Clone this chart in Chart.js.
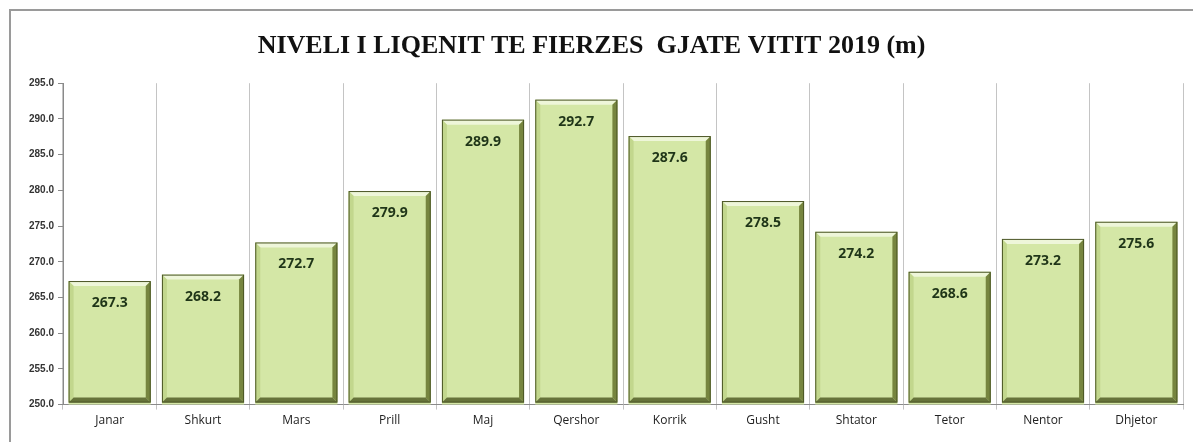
<!DOCTYPE html>
<html>
<head>
<meta charset="utf-8">
<script src="https://cdn.jsdelivr.net/npm/chart.js@4"></script>
<style>
  html, body { margin: 0; padding: 0; background: #fff; }
  #wrap { position: relative; width: 1193px; height: 442px; overflow: hidden; }
  #frame { position: absolute; left: 9px; top: 9px; width: 1200px; height: 460px;
           border: 2px solid #9a9a9a; box-sizing: border-box; pointer-events: none; }
</style>
</head>
<body>
<div id="wrap">
  <canvas id="bar-chart" width="1193" height="442"></canvas>
  <div id="frame"></div>
</div>
<script>
// months and lake level (m)
var months = ["Janar", "Shkurt", "Mars", "Prill", "Maj", "Qershor", "Korrik", "Gusht", "Shtator", "Tetor", "Nentor", "Dhjetor"];
var levels = [267.3, 268.2, 272.7, 279.9, 289.9, 292.7, 287.6, 278.5, 274.2, 268.6, 273.2, 275.6];
var yMin = 250, yMax = 295, yStep = 5;

// bevelled bar edges + value labels
var bevel = {
  id: 'bevel',
  afterDatasetsDraw: function (chart) {
    var ctx = chart.ctx;
    var meta = chart.getDatasetMeta(0);
    var bottom = chart.scales.y.getPixelForValue(yMin) - 2;
    meta.data.forEach(function (bar, i) {
      var l = bar.x - bar.width / 2, r = bar.x + bar.width / 2;
      var t = bar.y, b = Math.min(bar.base, bottom), s = 5;
      function poly(pts, col) {
        ctx.beginPath();
        ctx.moveTo(pts[0][0], pts[0][1]);
        for (var k = 1; k < pts.length; k++) ctx.lineTo(pts[k][0], pts[k][1]);
        ctx.closePath();
        ctx.fillStyle = col;
        ctx.fill();
      }
      ctx.save();
      poly([[l, t], [r, t], [r - s, t + s], [l + s, t + s]], '#eef6d9');
      poly([[l, t], [l + s, t + s], [l + s, b - s], [l, b]], '#c2d78d');
      poly([[r, t], [r, b], [r - s, b - s], [r - s, t + s]], '#76853f');
      poly([[l, b], [r, b], [r - s, b - s], [l + s, b - s]], '#66733a');
      ctx.strokeStyle = '#4b5626';
      ctx.lineWidth = 1;
      ctx.strokeRect(l + 0.5, t + 0.5, bar.width - 1, b - t - 1);
      ctx.fillStyle = '#1f3518';
      ctx.font = 'bold 14px "Open Sans", "Liberation Sans", sans-serif';
      ctx.textAlign = 'center';
      ctx.textBaseline = 'middle';
      ctx.fillText(levels[i].toFixed(1), bar.x, t + 22);
      ctx.restore();
    });
  }
};

new Chart(document.getElementById("bar-chart"), {
  type: 'bar',
  data: {
    labels: months,
    datasets: [
      {
        label: "Niveli",
        backgroundColor: "#d4e7a6",
        borderWidth: 0,
        data: levels,
        barPercentage: 0.88,
        categoryPercentage: 1
      }
    ]
  },
  options: {
    responsive: false,
    animation: false,
    layout: { padding: { top: 8, right: 10, bottom: 10, left: 0 } },
    plugins: {
      legend: { display: false },
      tooltip: { enabled: false },
      title: {
        display: true,
        text: 'NIVELI I LIQENIT TE FIERZES  GJATE VITIT 2019 (m)',
        color: '#111',
        font: { family: '"Liberation Serif", "Times New Roman", serif', size: 26, weight: 'bold' },
        padding: { top: 23, bottom: 21 }
      }
    },
    scales: {
      x: {
        grid: { color: '#c4c4c4', tickLength: 5, offset: true },
        border: { color: '#8a8a8a' },
        ticks: { color: '#222', padding: 4, font: { family: '"Open Sans", sans-serif', size: 12 } }
      },
      y: {
        min: yMin,
        max: yMax,
        afterFit: function (scale) { scale.width = 63; },
        grid: { drawOnChartArea: false, tickLength: 5, color: '#8a8a8a' },
        border: { color: '#8a8a8a' },
        ticks: {
          stepSize: yStep,
          padding: 4,
          color: '#333',
          font: { family: '"Liberation Sans", sans-serif', size: 10, weight: 'bold' },
          callback: function (v) { return v.toFixed(1); }
        }
      }
    }
  },
  plugins: [bevel]
});
</script>
</body>
</html>
